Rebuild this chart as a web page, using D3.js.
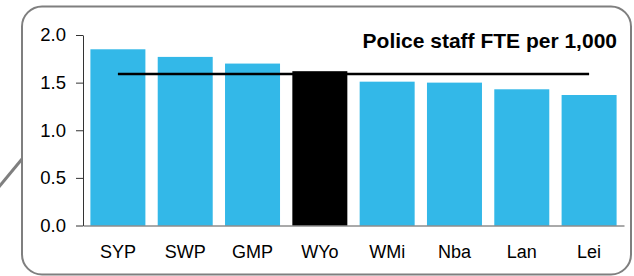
<!DOCTYPE html>
<html><head><meta charset="utf-8">
<script src="https://cdn.jsdelivr.net/npm/d3@7"></script>
<style>html,body{margin:0;padding:0;background:#fff;}svg{display:block;}</style>
</head><body>
<svg id="c" width="634" height="276"></svg>
<script>
const categories = ["SYP","SWP","GMP","WYo","WMi","Nba","Lan","Lei"];
const values = [1.85, 1.77, 1.70, 1.62, 1.51, 1.50, 1.43, 1.37];
const highlight = ["WYo"];
const averageValue = 1.59;
const yTicks = [0, 0.5, 1.0, 1.5, 2.0];
const title = "Police staff FTE per 1,000";

const svg = d3.select("#c");
const font = "'Liberation Sans', Arial, sans-serif";

// callout frame
svg.append("line").attr("x1", -2).attr("y1", 188).attr("x2", 22).attr("y2", 159)
  .attr("stroke", "#7f7f7f").attr("stroke-width", 3);
svg.append("rect").attr("x", 22).attr("y", 6.5).attr("width", 609).attr("height", 268)
  .attr("rx", 20).attr("ry", 20).attr("fill", "#fff").attr("stroke", "#7f7f7f").attr("stroke-width", 2);

const x = d3.scaleBand().domain(categories).range([83, 624]).paddingInner(0.183).paddingOuter(0.11);
const y = d3.scaleLinear().domain([0, 2]).range([225.5, 35]);

// bars
svg.selectAll("rect.bar").data(categories).join("rect").attr("class", "bar")
  .attr("x", d => x(d)).attr("width", x.bandwidth())
  .attr("y", (d, i) => y(values[i])).attr("height", (d, i) => y(0) - y(values[i]))
  .attr("fill", d => highlight.includes(d) ? "#000" : "#33b8e8");

// y axis
const ya = svg.append("g").attr("transform", "translate(83,0)")
  .call(d3.axisLeft(y).tickValues(yTicks).tickFormat(d3.format(".1f")).tickSizeInner(7).tickSizeOuter(0).tickPadding(10));
ya.select(".domain").attr("stroke", "#333");
ya.selectAll(".tick line").attr("stroke", "#333");
ya.selectAll("text").attr("font-family", font).attr("font-size", 18.5).attr("fill", "#000");

// x axis
const xa = svg.append("g").attr("transform", "translate(0,225.5)")
  .call(d3.axisBottom(x).tickSize(0).tickPadding(20));
xa.select(".domain").attr("stroke", "#555");
xa.selectAll("text").attr("font-family", font).attr("font-size", 18).attr("fill", "#000");

// average line
const line = d3.line().x(d => x(d) + x.bandwidth() / 2).y(() => y(averageValue));
svg.append("path").datum(categories).attr("d", line)
  .attr("fill", "none").attr("stroke", "#000").attr("stroke-width", 2.5);

// title
svg.append("text").attr("x", 617).attr("y", 47.5).attr("text-anchor", "end")
  .attr("font-family", font).attr("font-weight", "bold").attr("font-size", 21).attr("fill", "#000")
  .text(title);
</script>
</body></html>
